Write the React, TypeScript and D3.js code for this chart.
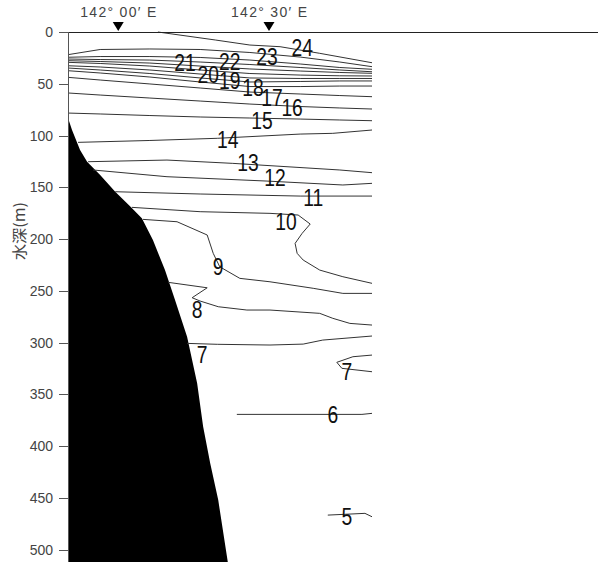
import React from 'react';
import * as d3 from 'd3';

// longitude in arc-minutes east of 142°00'E, depth in metres
const depthTicks = [0, 50, 100, 150, 200, 250, 300, 350, 400, 450, 500];
const stations = [
  { lon: 0, label: '142° 00′ E' },
  { lon: 30, label: '142° 30′ E' },
];

const seabed: [number, number][] = [
  [-10, 83.1], [-9.2, 94.7], [-7.6, 114], [-6.2, 125.3], [-3.6, 138.2], [-0.6, 154.3],
  [2.3, 168.1], [4.7, 180], [6.9, 201], [9.3, 230], [11.3, 258.9], [13.7, 294.4],
  [15.7, 339.4], [16.9, 381.4], [18.3, 416.7], [19.9, 452.2], [21.8, 512],
];

const gridLon = [-10, -3.6, 6.3, 16.3, 26.2, 36.2, 44.1, 50.5];
const t23 = [21.9, 16.9, 16.4, 16.9, 19.8, 24.2, 29, 33.5];
const t22 = [24.4, 23.7, 23.7, 24.6, 27.1, 30.9, 34.3, 36];
const t21 = [26.1, 26.6, 27.1, 29, 31.4, 34.3, 36.7, 38.4];
const t20 = [27.7, 28.5, 30, 32.9, 35.7, 37.7, 39.1, 39.9];
const t19 = [29.3, 30.4, 32.9, 36.7, 40.1, 41.6, 42.3, 42.5];
const t18 = [32.6, 33.8, 36.7, 40.6, 44.4, 44.9, 44.9, 44.9];
const t18b = [34.8, 36.7, 40.1, 44.4, 48.3, 47.8, 47.3, 47.3];
const t17 = [37.4, 39.6, 43.5, 48.3, 52.7, 52.7, 52.2, 52.2];
const t16b = [43.8, 46.4, 50.2, 54.1, 58, 59.9, 61.4, 62.5];
const t16 = [58.9, 60.9, 63.8, 66.7, 69.6, 72, 73.4, 74.4];
const t15 = [78.3, 79.2, 80.7, 82.1, 83.1, 84.1, 85, 85.7];

const zip = (ys: number[]): [number, number][] => ys.map((y, i) => [gridLon[i], y]);

const isotherms: [number, number][][] = [
  [[7.9, 0], [19.3, 7.7], [26.2, 12.6], [32.2, 14.2], [40.1, 20.6], [50.5, 29.7]],
  zip(t23), zip(t22), zip(t21), zip(t20), zip(t19), zip(t18), zip(t18b),
  zip(t17), zip(t16b), zip(t16), zip(t15),
  [[-8, 106.6], [6.3, 104.8], [19.7, 102.7], [36.2, 98.6], [42.7, 97.9], [50.5, 94.7]],
  [[-6, 125.3], [9.7, 123.7], [22.8, 126.9], [44.1, 133.3], [50.5, 135.9]],
  [[-5, 133.3], [9.7, 139.8], [29.6, 144], [44.7, 147.8], [50.5, 146.2]],
  [[-0.6, 154.3], [16.3, 156.5], [36.2, 158.5], [50.5, 158.5]],
  [[2.7, 169.4], [16.3, 173.6], [30.2, 175.2], [35.8, 176.8], [38.2, 185.5], [36.6, 194.5],
   [35.2, 204.2], [35.6, 213.8], [36.8, 220.3], [40.1, 230], [44.7, 236.4], [50.5, 242.8]],
  [[4.9, 181], [11.7, 183.3], [17.7, 196.1], [18.9, 213.8], [20.2, 226.8], [24.2, 238],
   [30.2, 241.3], [38.8, 247.6], [44.7, 252.5], [50.5, 252.5]],
  [[9.9, 241.8], [17.7, 247.1], [14.7, 256.7], [16.3, 259.9], [19.9, 265.4], [25.6, 268.6],
   [30.2, 268.6], [40.1, 271.8], [42.7, 276.6], [46.1, 281.5], [50.5, 283.1]],
  [[13.7, 300.8], [19.7, 301.7], [30.2, 302.4], [36.8, 301.5], [40.7, 297.6], [50.5, 293.7]],
  [[50.5, 312.1], [46.7, 313.7], [43.5, 319.1], [44.5, 324.9], [50.5, 328.2]],
  [[23.6, 369.4], [48.5, 369.4], [50.5, 368.4]],
  [[41.7, 466.7], [49.1, 465], [50.5, 468.3]],
];

const labelText = ['24', '23', '22', '21', '20', '19', '18', '17', '16', '15', '14', '13',
  '12', '11', '10', '9', '8', '7', '7', '6', '5'];
const labelLon = [36.6, 29.6, 22.2, 13.3, 17.9, 22.2, 26.8, 30.6, 34.6, 28.6, 21.8, 25.8,
  31.2, 38.8, 33.4, 19.9, 15.7, 16.7, 45.5, 42.7, 45.5];
const labelDepth = [15.5, 24.2, 29, 30, 41.5, 47.3, 54.1, 63.8, 73.4, 86, 104.3, 126.6,
  141.1, 160.4, 183.6, 227.1, 268.6, 312.1, 328.5, 370.1, 468.6];

const W = 598;
const H = 562;

export default function App() {
  const x = d3.scaleLinear().domain([-10, 50.5]).range([68, 372]);
  const y = d3.scaleLinear().domain([0, 512]).range([32, 562]);
  const line = d3.line<[number, number]>().x(d => x(d[0])).y(d => y(d[1]));

  const bed: [number, number][] = [...seabed, [-10, 512]];
  const bedPath = line(bed) + 'Z';

  return (
    <svg width={W} height={H} style={{ position: 'absolute', left: 0, top: 0, background: '#fff' }}>
      <path d={bedPath} fill="#000" />
      {isotherms.map((pts, i) => (
        <path key={i} d={line(pts) ?? ''} fill="none" stroke="#333" strokeWidth={1} />
      ))}
      {labelText.map((t, i) => (
        <g key={i} transform={`translate(${x(labelLon[i])},${y(labelDepth[i])}) scale(0.84,1)`}>
          <text dy="0.36em" textAnchor="middle"
            fontFamily="'Liberation Sans', Arial, sans-serif" fontSize={23} fill="#111">
            {t}
          </text>
        </g>
      ))}
      {/* axes */}
      <line x1={59} x2={W} y1={32.5} y2={32.5} stroke="#222" />
      <line x1={68.5} x2={68.5} y1={32} y2={H} stroke="#555" />
      {depthTicks.map(d => (
        <g key={d}>
          <line x1={59} x2={68} y1={Math.round(y(d)) + 0.5} y2={Math.round(y(d)) + 0.5} stroke="#555" />
          <text x={53} y={y(d)} dy="0.36em" textAnchor="end" fontFamily="'Liberation Sans', Arial, sans-serif"
            fontSize={14} fill="#444">{d}</text>
        </g>
      ))}
      {stations.map(s => (
        <g key={s.label}>
          <path d={`M${x(s.lon) - 5.5},22 L${x(s.lon) + 5.5},22 L${x(s.lon)},31 Z`} fill="#000" />
          <text x={x(s.lon)} y={17} textAnchor="middle" textLength={76} lengthAdjust="spacing"
            fontFamily="'Liberation Sans', Arial, sans-serif" fontSize={14} fill="#444">{s.label}</text>
        </g>
      ))}
      <text transform="translate(20,231) rotate(-90)" textAnchor="middle" dy="0.36em"
        fontFamily="'Noto Sans CJK JP', sans-serif" fontSize={15} fill="#444" textLength={58}
        lengthAdjust="spacingAndGlyphs">水深(m)</text>
    </svg>
  );
}
